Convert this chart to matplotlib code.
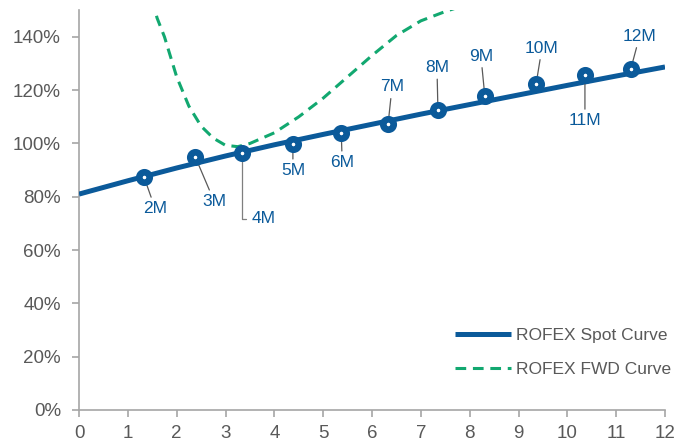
import numpy as np
import matplotlib
matplotlib.use("Agg")
import matplotlib.pyplot as plt

plt.rcParams['font.family'] = ['Liberation Sans', 'DejaVu Sans']

# spot curve (line)
spot_x = [0, 1, 2, 3, 4, 5, 6, 7, 8, 9, 10, 11, 12]
spot_y = [81.0, 86.0, 90.8, 95.3, 99.5, 103.4, 107.2, 111.0, 114.6, 118.2, 121.8, 125.3, 128.7]

# spot curve markers (contract maturities)
mk_labels = ['2M', '3M', '4M', '5M', '6M', '7M', '8M', '9M', '10M', '11M', '12M']
mk_x = [1.33, 2.38, 3.34, 4.38, 5.37, 6.33, 7.35, 8.31, 9.36, 10.36, 11.30]
mk_y = [87.5, 95.0, 96.5, 99.9, 104.0, 107.4, 112.4, 117.8, 122.3, 125.7, 128.0]

# forward curve
fwd_x = [1.45, 1.6, 1.75, 2.0, 2.25, 2.5, 2.75, 3.0, 3.25, 3.5, 4.0, 4.5, 5.0, 5.5, 6.0, 6.5, 7.0, 7.5, 8.0]
fwd_y = [157, 147, 140, 125, 114, 106.5, 102, 99.3, 98.8, 100, 104, 110, 117, 125, 133, 140.5, 146, 149.5, 152.5]

# label text positions (offsets from marker, in data units)
lab_dx = [0.23, 0.39, 0.0, 0.0, 0.02, 0.08, -0.02, -0.08, 0.12, 0.0, 0.18]
lab_dy = [-12.0, -16.8, 0.0, -10.1, -11.2, 13.8, 16.1, 15.0, 13.5, -17.2, 12.3]

blue = '#0B5A9A'
green = '#12A870'
grey = '#A6A6A6'
txt = '#595959'

fig = plt.figure(figsize=(6.9, 4.43), dpi=100)
ax = fig.add_axes([0.1145, 0.0745, 0.8493, 0.9025])

ax.plot(spot_x, spot_y, color=blue, lw=3.6, solid_capstyle='butt', label='ROFEX Spot Curve', zorder=3)
ax.plot(fwd_x, fwd_y, color=green, lw=2.2, dashes=(3.5, 2.2), label='ROFEX FWD Curve', zorder=2)
ax.plot(mk_x, mk_y, ls='none', marker='o', ms=7.5, mew=4.8, mec=blue, mfc='white', zorder=4)

for i, lab in enumerate(mk_labels):
    if lab == '4M':
        ax.annotate(lab, xy=(mk_x[i], mk_y[i]), xytext=(mk_x[i] + 0.2, 71.8),
                    ha='left', va='center', fontsize=12.5, color=blue,
                    arrowprops=dict(arrowstyle='-', color='#7F7F7F', lw=0.9,
                                    connectionstyle='angle,angleA=0,angleB=90,rad=0',
                                    relpos=(0, 0.5), shrinkA=2, shrinkB=0))
    else:
        ax.annotate(lab, xy=(mk_x[i], mk_y[i]), xytext=(mk_x[i] + lab_dx[i], mk_y[i] + lab_dy[i]),
                    ha='center', va='center', fontsize=12.5, color=blue,
                    arrowprops=dict(arrowstyle='-', color='#595959', lw=0.9,
                                    shrinkA=1, shrinkB=0))

ax.set_xlim(0, 12)
ax.set_ylim(0, 150)
ax.set_xticks(range(13))
ax.set_yticks(range(0, 141, 20))
ax.set_yticklabels([f'{v}%' for v in range(0, 141, 20)])

for s in ['top', 'right']:
    ax.spines[s].set_visible(False)
for s in ['left', 'bottom']:
    ax.spines[s].set_color(grey)
    ax.spines[s].set_linewidth(1.2)
ax.tick_params(axis='both', colors=grey, length=5, width=1.2, labelsize=13.5, labelcolor=txt)
ax.tick_params(axis='x', pad=6)
ax.tick_params(axis='y', pad=8)

ax.legend(loc='center left', bbox_to_anchor=(0.642, 0.144), frameon=False,
          fontsize=12.5, handlelength=3.2, handletextpad=0.3, labelspacing=1.1,
          borderpad=0, borderaxespad=0, labelcolor=txt)

fig.savefig('out.png', dpi=100)
